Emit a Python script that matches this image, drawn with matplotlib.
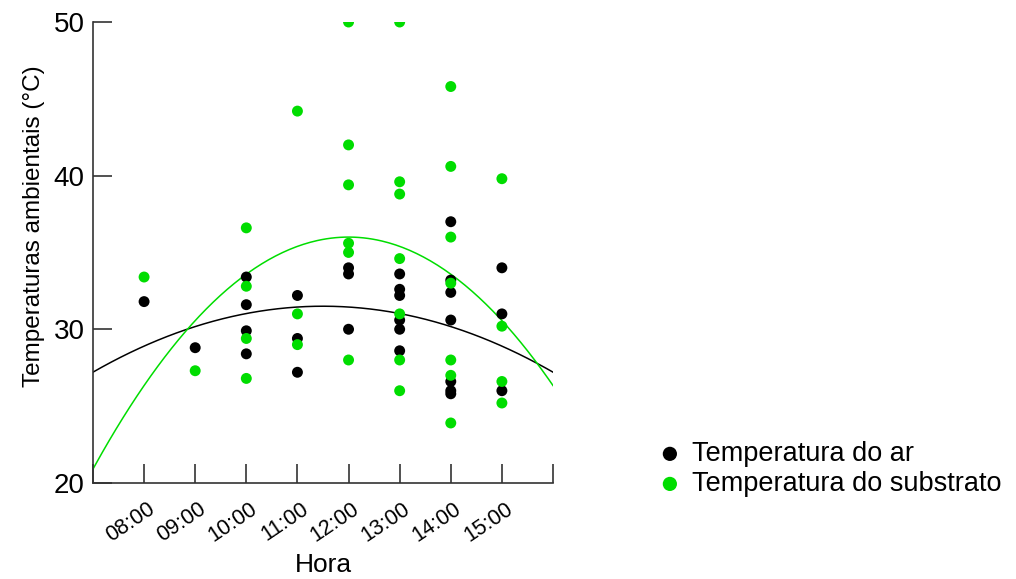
import numpy as np
import matplotlib
matplotlib.use('Agg')
import matplotlib.pyplot as plt
import matplotlib.transforms as mtransforms

plt.rcParams['font.family'] = ['Liberation Sans', 'DejaVu Sans']

hora_ar = [8,
           9,
           10, 10, 10, 10,
           11, 11, 11,
           12, 12, 12,
           13, 13, 13, 13, 13, 13,
           14, 14, 14, 14, 14, 14, 14,
           15, 15, 15]
temp_ar = [31.8,
           28.8,
           33.4, 31.6, 29.9, 28.4,
           32.2, 29.4, 27.2,
           34.0, 33.6, 30.0,
           33.6, 32.6, 32.2, 30.6, 30.0, 28.6,
           37.0, 33.2, 32.4, 30.6, 26.6, 26.0, 25.8,
           34.0, 31.0, 26.0]

hora_sub = [8,
            9,
            10, 10, 10, 10,
            11, 11, 11,
            12, 12, 12, 12, 12, 12,
            13, 13, 13, 13, 13, 13, 13,
            14, 14, 14, 14, 14, 14, 14,
            15, 15, 15, 15]
temp_sub = [33.4,
            27.3,
            36.6, 32.8, 29.4, 26.8,
            44.2, 31.0, 29.0,
            50.0, 42.0, 39.4, 35.6, 35.0, 28.0,
            50.0, 39.6, 38.8, 34.6, 31.0, 28.0, 26.0,
            45.8, 40.6, 36.0, 33.0, 28.0, 27.0, 23.9,
            39.8, 30.2, 26.6, 25.2]

# quadratic trend curves as drawn in the chart: (curvature, vertex hour, vertex temp)
trend_ar = (-0.212, 11.5, 31.5)
trend_sub = (-0.604, 12.0, 36.0)

tick_hours = [8, 9, 10, 11, 12, 13, 14, 15]
tick_labels = ['08:00', '09:00', '10:00', '11:00', '12:00', '13:00', '14:00', '15:00']

green = '#00dd00'

fig = plt.figure(figsize=(10.16, 5.79), dpi=100)
ax = fig.add_axes([0.0915, 0.166, 0.4528, 0.796])

xs = np.linspace(7, 16, 200)
for (a, h, k), col in [(trend_ar, 'black'), (trend_sub, green)]:
    ax.plot(xs, a * (xs - h) ** 2 + k, color=col, lw=1.1, zorder=2)

ax.scatter(hora_ar, temp_ar, s=62, color='black', edgecolors='none', zorder=3,
           label='Temperatura do ar')
ax.scatter(hora_sub, temp_sub, s=62, color=green, edgecolors='none', zorder=4,
           label='Temperatura do substrato')

ax.set_xlim(7, 16)
ax.set_ylim(20, 50)
ax.set_xticks(range(7, 17))
ax.set_xticklabels([''] + tick_labels + [''])
ax.set_yticks([20, 30, 40, 50])

for s in ['top', 'right']:
    ax.spines[s].set_visible(False)
for s in ['left', 'bottom']:
    ax.spines[s].set_color('#333333')
    ax.spines[s].set_linewidth(1.2)

ax.tick_params(axis='both', direction='in', length=14, width=1.2, color='#333333')
ax.tick_params(axis='y', pad=6, labelsize=20)
ax.tick_params(axis='x', pad=11, labelsize=15.5)
shift = mtransforms.ScaledTranslation(3 / 100, 0, fig.dpi_scale_trans)
for lab in ax.get_xticklabels():
    lab.set_rotation(34)
    lab.set_ha('right')
    lab.set_va('top')
    lab.set_rotation_mode('anchor')
    lab.set_transform(lab.get_transform() + shift)

ax.set_xlabel('Hora', fontsize=19, labelpad=5)
ax.set_ylabel('Temperaturas ambientais (°C)', fontsize=17.5)
ax.yaxis.set_label_coords(-0.104, 0.557)

fig.legend(loc='center left', bbox_to_anchor=(0.638, 0.19), frameon=False,
           fontsize=19.5, handletextpad=0.4, labelspacing=0.15, borderaxespad=0,
           markerscale=1.3, handlelength=0.8)

fig.savefig('out.png', dpi=100)
